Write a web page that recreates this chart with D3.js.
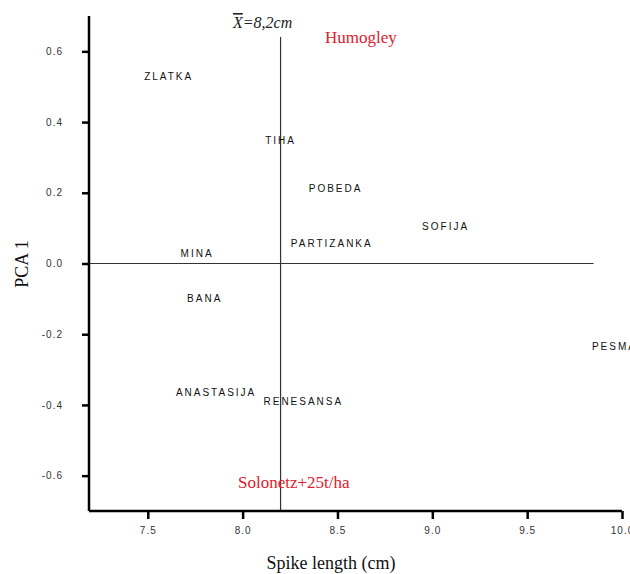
<!DOCTYPE html>
<html>
<head>
<meta charset="utf-8">
<script src="https://cdn.jsdelivr.net/npm/d3@7"></script>
<style>
  body { margin: 0; background: #fff; }
  svg { display: block; }
</style>
</head>
<body>
<svg id="chart"></svg>
<script>
// varieties, spike length (cm) and PCA 1 score
const varieties = ["ZLATKA", "TIHA", "POBEDA", "SOFIJA", "PARTIZANKA", "MINA", "BANA", "ANASTASIJA", "RENESANSA", "PESMA"];
const spikeLength = [7.61, 8.20, 8.49, 9.07, 8.47, 7.76, 7.80, 7.86, 8.32, 9.96];
const pca1 = [0.528, 0.347, 0.212, 0.105, 0.056, 0.028, -0.10, -0.365, -0.39, -0.235];
const xTicks = [7.5, 8.0, 8.5, 9.0, 9.5, 10.0];
const yTicks = [-0.6, -0.4, -0.2, 0.0, 0.2, 0.4, 0.6];
const meanLength = 8.2;
const zeroLineEnd = 9.85;

const width = 630;
const height = 574;
const svg = d3.select("#chart").attr("width", width).attr("height", height);

const x = d3.scaleLinear().domain([7.19, 10.0]).range([89, 622]);
const y = d3.scaleLinear().domain([-0.7, 0.7]).range([511, 16]);

// plain hyphen minus like the original
const fmt = (d) => d3.format(".1f")(d).replace("\u2212", "-");

// reference lines
svg.append("line")
  .attr("x1", x(7.19)).attr("x2", x(zeroLineEnd))
  .attr("y1", y(0)).attr("y2", y(0))
  .attr("stroke", "#333").attr("stroke-width", 1.2);

svg.append("line")
  .attr("x1", x(meanLength)).attr("x2", x(meanLength))
  .attr("y1", 37).attr("y2", y(-0.7))
  .attr("stroke", "#333").attr("stroke-width", 1.2);

// axes
const xAxis = svg.append("g")
  .attr("transform", `translate(0,${y(-0.7)})`)
  .call(d3.axisBottom(x).tickValues(xTicks).tickFormat(fmt).tickSize(8).tickPadding(8));

const yAxis = svg.append("g")
  .attr("transform", `translate(${x(7.19)},0)`)
  .call(d3.axisLeft(y).tickValues(yTicks).tickFormat(fmt).tickSize(7).tickPadding(19));

[xAxis, yAxis].forEach((g) => {
  g.select(".domain").attr("stroke", "#000").attr("stroke-width", 2.5);
  g.selectAll(".tick line").attr("stroke", "#000").attr("stroke-width", 2.5);
  g.selectAll(".tick text")
    .style("font-family", "Liberation Sans, Arial, sans-serif")
    .style("font-size", "10px")
    .style("letter-spacing", "1px")
    .attr("fill", "#333");
});
xAxis.select(".domain").attr("d", `M${x(7.19)},0H${x(10)}`);
yAxis.select(".domain").attr("d", `M0,${y(0.7)}V${y(-0.7)}`);

// variety labels
svg.selectAll(".variety")
  .data(varieties)
  .enter()
  .append("text")
  .attr("class", "variety")
  .attr("x", (d, i) => x(spikeLength[i]))
  .attr("y", (d, i) => y(pca1[i]))
  .attr("dy", "0.35em")
  .attr("text-anchor", "middle")
  .style("font-family", "Liberation Sans, Arial, sans-serif")
  .style("font-size", "10px")
  .style("letter-spacing", "2px")
  .attr("fill", "#111")
  .text((d) => d);

// soil annotations
const serif = "Liberation Serif, Times New Roman, serif";
svg.append("text")
  .attr("x", 325).attr("y", 43)
  .style("font-family", serif).style("font-size", "17px")
  .attr("fill", "#e0202e")
  .text("Humogley");

svg.append("text")
  .attr("x", 238).attr("y", 488)
  .style("font-family", serif).style("font-size", "17px")
  .attr("fill", "#e0202e")
  .text("Solonetz+25t/ha");

// mean label
const meanLabel = svg.append("text")
  .attr("x", 233).attr("y", 28)
  .style("font-family", serif).style("font-size", "16px").style("font-style", "italic")
  .attr("fill", "#222");
meanLabel.append("tspan").style("text-decoration", "overline").text("X");
meanLabel.append("tspan").text("=8,2cm");

// axis titles
svg.append("text")
  .attr("transform", "rotate(-90)")
  .attr("x", -264).attr("y", 28)
  .attr("text-anchor", "middle")
  .style("font-family", serif).style("font-size", "18px")
  .attr("fill", "#111")
  .text("PCA 1");

svg.append("text")
  .attr("x", 331).attr("y", 569)
  .attr("text-anchor", "middle")
  .style("font-family", serif).style("font-size", "18px")
  .attr("fill", "#111")
  .text("Spike length (cm)");
</script>
</body>
</html>
